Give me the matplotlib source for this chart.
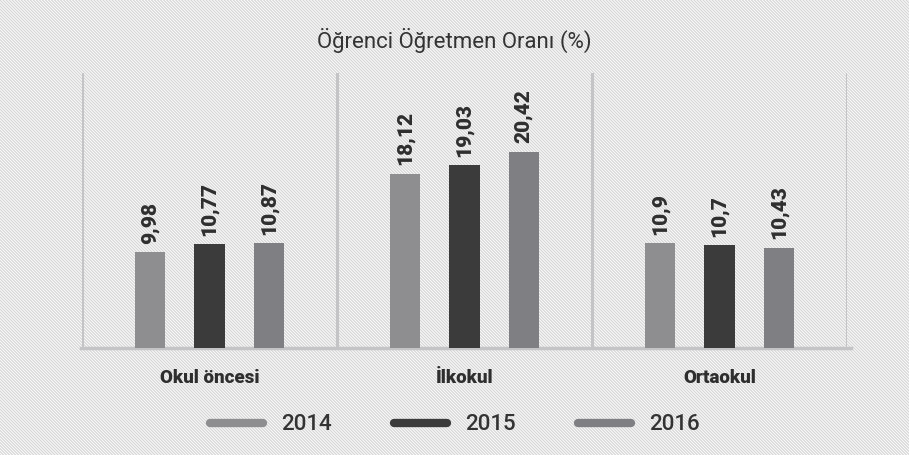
import matplotlib
matplotlib.use('Agg')
import matplotlib.pyplot as plt
from matplotlib.patches import Rectangle
from matplotlib.lines import Line2D
import numpy as np

plt.rcParams['font.family'] = ['Roboto', 'DejaVu Sans']
plt.rcParams['hatch.linewidth'] = 0.9

title = "Öğrenci Öğretmen Oranı (%)"
categories = ['Okul öncesi', 'İlkokul', 'Ortaokul']
years = ['2014', '2015', '2016']
values = {
    '2014': [9.98, 18.12, 10.9],
    '2015': [10.77, 19.03, 10.7],
    '2016': [10.87, 20.42, 10.43],
}
labels = {
    '2014': ['9,98', '18,12', '10,9'],
    '2015': ['10,77', '19,03', '10,7'],
    '2016': ['10,87', '20,42', '10,43'],
}
colors = ['#8e8e90', '#3b3b3b', '#7f7f83']

fig = plt.figure(figsize=(9.09, 4.55), dpi=100)
bg = Rectangle((0, 0), 1, 1, transform=fig.transFigure, facecolor='white',
               edgecolor='#d6d6d6', hatch='\\' * 11, lw=0, zorder=-10)
fig.add_artist(bg)

ax = fig.add_axes([82/909, 1 - 348/455, 765/909, 275/455])
ax.patch.set_alpha(0)

x = np.arange(len(categories))
offset = 0.233
width = 0.118
for i, yr in enumerate(years):
    bars = ax.bar(x + (i - 1) * offset, values[yr], width, color=colors[i], zorder=3)
    for b, lab in zip(bars, labels[yr]):
        ax.annotate(lab, (b.get_x() + b.get_width() / 2, b.get_height()),
                    xytext=(0, 6), textcoords='offset points', rotation=90,
                    ha='center', va='bottom', fontsize=15, fontweight='black',
                    color='#2e2e2e')

ax.set_xlim(-0.5, 2.5)
ax.set_ylim(0, 28.6)
for s in ax.spines.values():
    s.set_visible(False)
for xv in [-0.5, 0.5, 1.5, 2.5]:
    ax.axvline(xv, color='#c4c4c6', lw=2.2, zorder=2)
ax.plot([-0.505, 2.515], [0, 0], color='#c4c4c6', lw=2.5, clip_on=False, zorder=2)

ax.set_yticks([])
ax.set_xticks(x)
ax.set_xticklabels(categories, fontsize=13.5, fontweight='black', color='#2e2e2e')
ax.tick_params(axis='x', length=0, pad=15)

fig.text(0.5, 1 - 40/455, title, ha='center', va='center', fontsize=16,
         color='#333333')

handles = [Line2D([0], [0], color=c, lw=6, solid_capstyle='round') for c in colors]
fig.legend(handles, years, loc='center', bbox_to_anchor=(0.5, 1 - 425/455), ncol=3,
           frameon=False, handlelength=2.4, handletextpad=0.8,
           columnspacing=2.8, labelcolor='#333333',
           prop={'size': 16, 'weight': 'medium'})

plt.savefig('out.png', dpi=100)
